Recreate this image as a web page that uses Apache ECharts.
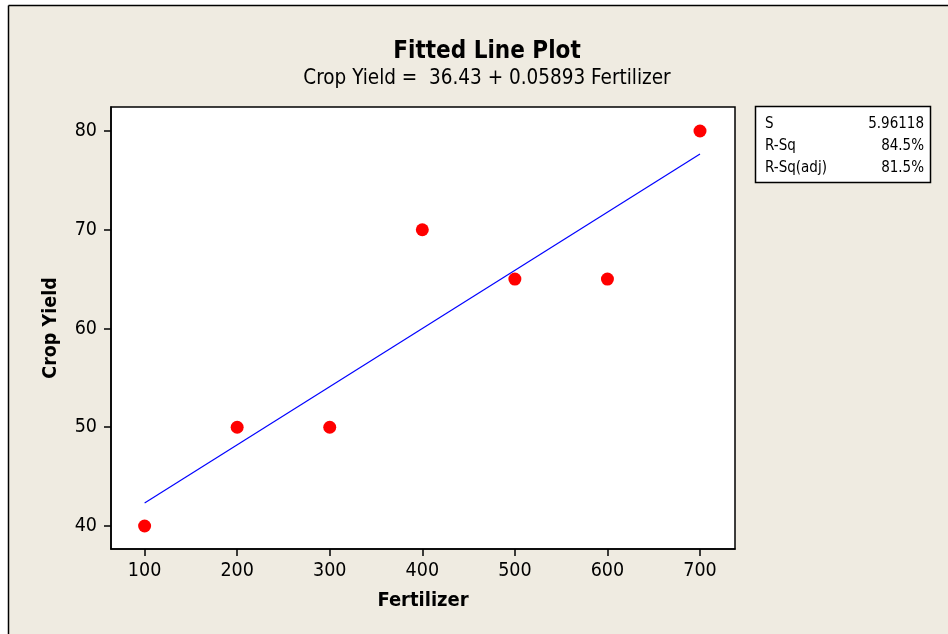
<!DOCTYPE html>
<html><head><meta charset="utf-8">
<script src="https://cdn.jsdelivr.net/npm/echarts@6/dist/echarts.min.js"></script>
<style>html,body{margin:0;padding:0;background:#fff;overflow:hidden;}#c{width:948px;height:634px;}</style>
</head><body><div id="c"></div>
<script>
const fertilizer = [100, 200, 300, 400, 500, 600, 700];
const cropYield = [40, 50, 50, 70, 65, 65, 80];
const intercept = 36.43;
const slope = 0.05893;
const xTicks = [100, 200, 300, 400, 500, 600, 700];
const yTicks = [40, 50, 60, 70, 80];
const statNames = ['S', 'R-Sq', 'R-Sq(adj)'];
const statValues = ['5.96118', '84.5%', '81.5%'];

const FONT = '"DejaVu Sans Condensed", "DejaVu Sans"';
const points = fertilizer.map((x, i) => [x, cropYield[i]]);
const fitLine = [fertilizer[0], fertilizer[fertilizer.length - 1]].map(x => [x, intercept + slope * x]);

const statGraphics = [];
statNames.forEach((n, i) => {
  statGraphics.push({type: 'text', x: 765, y: 124 + i * 22, style: {text: n, font: '15px ' + FONT, fill: '#000', verticalAlign: 'middle'}});
  statGraphics.push({type: 'text', x: 924, y: 124 + i * 22, style: {text: statValues[i], font: '15px ' + FONT, fill: '#000', align: 'right', verticalAlign: 'middle'}});
});

const chart = echarts.init(document.getElementById('c'));
chart.setOption({
  animation: false,
  backgroundColor: '#fff',
  graphic: [
    {type: 'rect', z: -10, shape: {x: 8, y: 5, width: 960, height: 650}, style: {fill: '#efebe1'}},
    {type: 'line', shape: {x1: 8.5, y1: 5.5, x2: 960, y2: 5.5}, style: {stroke: '#000', lineWidth: 1.5}},
    {type: 'line', shape: {x1: 8.5, y1: 5.5, x2: 8.5, y2: 650}, style: {stroke: '#000', lineWidth: 1.5}},
    {type: 'rect', shape: {x: 755.5, y: 106.5, width: 175, height: 76}, style: {fill: '#fff', stroke: '#000', lineWidth: 1.5}},
    ...statGraphics
  ],
  title: {
    text: 'Fitted Line Plot',
    subtext: 'Crop Yield =  36.43 + 0.05893 Fertilizer',
    left: 482, top: 35, textAlign: 'center', itemGap: 4,
    textStyle: {fontFamily: FONT, fontWeight: 'bold', fontSize: 24, color: '#000'},
    subtextStyle: {fontFamily: FONT, fontSize: 20.5, color: '#000'}
  },
  grid: {left: 111, top: 107, right: 213, bottom: 85, show: true, backgroundColor: '#fff', borderColor: '#000', borderWidth: 1.5},
  xAxis: {
    type: 'value', min: 63.7, max: 737.8,
    name: 'Fertilizer', nameLocation: 'middle', nameGap: 42,
    nameTextStyle: {fontFamily: FONT, fontWeight: 'bold', fontSize: 20, color: '#000'},
    axisLine: {show: true, lineStyle: {color: '#000', width: 1.5}},
    axisTick: {show: true, length: 7, lineStyle: {color: '#000', width: 1.5}, customValues: xTicks},
    axisLabel: {fontFamily: FONT, fontSize: 19.5, color: '#000', margin: 12, customValues: xTicks},
    splitLine: {show: false}
  },
  yAxis: {
    type: 'value', min: 37.67, max: 82.43,
    name: 'Crop Yield', nameLocation: 'middle', nameGap: 50,
    nameTextStyle: {fontFamily: FONT, fontWeight: 'bold', fontSize: 19.5, color: '#000'},
    axisLine: {show: true, lineStyle: {color: '#000', width: 1.5}},
    axisTick: {show: true, length: 7, lineStyle: {color: '#000', width: 1.5}, customValues: yTicks},
    axisLabel: {fontFamily: FONT, fontSize: 19.5, color: '#000', margin: 14, customValues: yTicks},
    splitLine: {show: false}
  },
  series: [
    {type: 'line', data: fitLine, symbol: 'none', lineStyle: {color: '#0000ff', width: 1.2}, z: 2},
    {type: 'scatter', data: points, symbol: 'circle', symbolSize: 13, itemStyle: {color: '#ff0000', opacity: 1}, z: 3}
  ]
});
</script></body></html>
